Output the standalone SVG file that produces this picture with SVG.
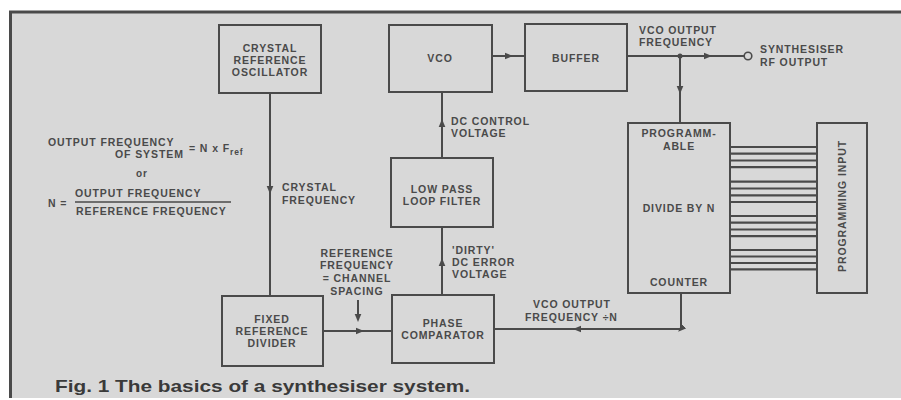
<svg xmlns="http://www.w3.org/2000/svg" width="901" height="400" viewBox="0 0 901 400">
<defs>
<style>
.bg{fill:#d8d8d8}
.box{fill:none;stroke:#4a4a4a;stroke-width:2}
.ln{fill:none;stroke:#4a4a4a;stroke-width:2}
.bus{stroke:#4a4a4a;stroke-width:2.2}
.t{font-family:"Liberation Sans",Arial,sans-serif;font-weight:bold;font-size:10.5px;fill:#4a4a4a;letter-spacing:0.9px}
.c{text-anchor:middle}
.cap{font-family:"Liberation Sans",Arial,sans-serif;font-weight:bold;font-size:17px;fill:#3a3a3a}
</style>
<marker id="arr" viewBox="-4 -4 8 8" markerWidth="8" markerHeight="8" markerUnits="userSpaceOnUse" orient="auto" refX="0" refY="0">
<path d="M-4,-3.3 L4,0 L-4,3.3 z" fill="#4a4a4a"/>
</marker>
</defs>
<rect x="0" y="0" width="901" height="400" fill="#ffffff"/>
<rect class="bg" x="10" y="11" width="900" height="387"/>
<path d="M10.5,398 V12 H901" fill="none" stroke="#4a4a4a" stroke-width="3"/>

<g id="connectors">
<polyline class="ln" points="270,93 270,190 270,296" marker-mid="url(#arr)"/>
<polyline class="ln" points="323,331 360,331 392,331" marker-mid="url(#arr)"/>
<polyline class="ln" points="358,300 358,318" marker-end="url(#arr)" stroke-width="1.5"/>
<polyline class="ln" points="442,295 442,262 442,227" marker-mid="url(#arr)"/>
<polyline class="ln" points="442,158 442,123 442,92" marker-mid="url(#arr)"/>
<polyline class="ln" points="492,56 509,56 525,56" marker-mid="url(#arr)"/>
<polyline class="ln" points="627,56 708,56 744,56" marker-mid="url(#arr)"/>
<circle cx="748" cy="56" r="3.8" fill="#d8d8d8" stroke="#4a4a4a" stroke-width="1.6"/>
<circle cx="680" cy="56" r="2.5" fill="#4a4a4a"/>
<polyline class="ln" points="680,56 680,90 680,123" marker-mid="url(#arr)"/>
<polyline class="ln" points="681,293 681,329 577,329 494,329" marker-mid="url(#arr)"/>
<g id="bus">
<line class="bus" x1="730" y1="147" x2="817" y2="147"/>
<line class="bus" x1="730" y1="153.7" x2="817" y2="153.7"/>
<line class="bus" x1="730" y1="160.5" x2="817" y2="160.5"/>
<line class="bus" x1="730" y1="167.2" x2="817" y2="167.2"/>
<line class="bus" x1="730" y1="181.7" x2="817" y2="181.7"/>
<line class="bus" x1="730" y1="188.5" x2="817" y2="188.5"/>
<line class="bus" x1="730" y1="195.3" x2="817" y2="195.3"/>
<line class="bus" x1="730" y1="202" x2="817" y2="202"/>
<line class="bus" x1="730" y1="216" x2="817" y2="216"/>
<line class="bus" x1="730" y1="222.7" x2="817" y2="222.7"/>
<line class="bus" x1="730" y1="229.5" x2="817" y2="229.5"/>
<line class="bus" x1="730" y1="236.2" x2="817" y2="236.2"/>
<line class="bus" x1="730" y1="250" x2="817" y2="250"/>
<line class="bus" x1="730" y1="256.5" x2="817" y2="256.5"/>
<line class="bus" x1="730" y1="263" x2="817" y2="263"/>
<line class="bus" x1="730" y1="269.3" x2="817" y2="269.3"/>
</g>
</g>

<g id="crystal-osc">
<rect class="box" x="219" y="25" width="102" height="68"/>
<text class="t c" x="270" y="52">CRYSTAL</text>
<text class="t c" x="270" y="64">REFERENCE</text>
<text class="t c" x="270" y="76">OSCILLATOR</text>
</g>
<g id="vco">
<rect class="box" x="389" y="25" width="103" height="67"/>
<text class="t c" x="440" y="62">VCO</text>
</g>
<g id="buffer">
<rect class="box" x="525" y="24" width="102" height="67"/>
<text class="t c" x="576" y="62">BUFFER</text>
</g>
<g id="lpf">
<rect class="box" x="391" y="158" width="102" height="69"/>
<text class="t c" x="442" y="193">LOW PASS</text>
<text class="t c" x="442" y="205">LOOP FILTER</text>
</g>
<g id="phase-comp">
<rect class="box" x="392" y="295" width="102" height="68"/>
<text class="t c" x="443" y="327">PHASE</text>
<text class="t c" x="443" y="339">COMPARATOR</text>
</g>
<g id="fixed-ref-div">
<rect class="box" x="222" y="296" width="101" height="70"/>
<text class="t c" x="272" y="323">FIXED</text>
<text class="t c" x="272" y="335">REFERENCE</text>
<text class="t c" x="272" y="347">DIVIDER</text>
</g>
<g id="prog-divider">
<rect class="box" x="628" y="123" width="102" height="170"/>
<text class="t c" x="679" y="137">PROGRAMM-</text>
<text class="t c" x="679" y="150">ABLE</text>
<text class="t c" x="679" y="212">DIVIDE BY N</text>
<text class="t c" x="679" y="286">COUNTER</text>
</g>
<g id="prog-input">
<rect class="box" x="817" y="123" width="50" height="170"/>
<text class="t c" transform="translate(846,206) rotate(-90)" x="0" y="0">PROGRAMMING INPUT</text>
</g>

<g id="labels">
<text class="t" x="639" y="34">VCO OUTPUT</text>
<text class="t" x="639" y="46">FREQUENCY</text>
<text class="t" x="760" y="53">SYNTHESISER</text>
<text class="t" x="760" y="66">RF OUTPUT</text>
<text class="t" x="451" y="125">DC CONTROL</text>
<text class="t" x="451" y="137">VOLTAGE</text>
<text class="t" x="282" y="191">CRYSTAL</text>
<text class="t" x="282" y="204">FREQUENCY</text>
<text class="t" x="452" y="254">'DIRTY'</text>
<text class="t" x="452" y="266">DC ERROR</text>
<text class="t" x="452" y="278">VOLTAGE</text>
<text class="t c" x="357" y="257">REFERENCE</text>
<text class="t c" x="357" y="269">FREQUENCY</text>
<text class="t c" x="357" y="282">= CHANNEL</text>
<text class="t c" x="357" y="295">SPACING</text>
<text class="t" x="533" y="308">VCO OUTPUT</text>
<text class="t" x="525" y="321">FREQUENCY ÷N</text>
</g>

<g id="formula">
<text class="t" x="48" y="146">OUTPUT FREQUENCY</text>
<text class="t" x="115" y="158">OF SYSTEM</text>
<text class="t" x="189" y="152">= N x F<tspan font-size="8.5" dy="3">ref</tspan></text>
<text class="t c" x="142" y="177" style="font-size:10px">or</text>
<text class="t" x="48" y="207">N =</text>
<text class="t" x="75" y="197">OUTPUT FREQUENCY</text>
<line x1="75" y1="202" x2="231" y2="202" stroke="#4a4a4a" stroke-width="1.5"/>
<text class="t" x="76" y="215">REFERENCE FREQUENCY</text>
</g>

<text class="cap" x="55" y="392" textLength="415" lengthAdjust="spacingAndGlyphs">Fig. 1 The basics of a synthesiser system.</text>
</svg>
